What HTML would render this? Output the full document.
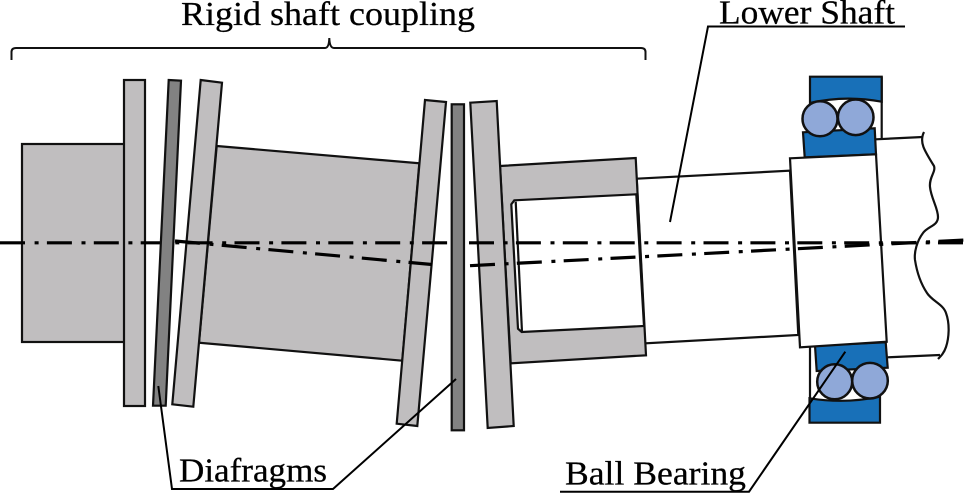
<!DOCTYPE html>
<html>
<head>
<meta charset="utf-8">
<style>
html,body{margin:0;padding:0;background:#fff;width:968px;height:494px;overflow:hidden}
svg{display:block}
text{font-family:"Liberation Serif",serif;fill:#000;stroke:#000;stroke-width:.25}
</style>
</head>
<body>
<svg width="968" height="494" viewBox="0 0 968 494" xmlns="http://www.w3.org/2000/svg">
<g stroke="#111" stroke-width="2.2" stroke-linejoin="miter">
  <!-- left hub and middle shaft -->
  <rect x="22" y="144" width="103" height="198" fill="#c0bebf"/>
  <polygon points="216.7,146 419.3,163.3 402.3,360.7 199,342.7" fill="#c0bebf"/>
  <!-- lower shaft -->
  <polygon points="636.7,178.7 790,170.7 798.3,335 645,343.3" fill="#fff"/>
  <!-- right hub -->
  <polygon points="500,166 635.7,158 646,355.3 510.7,363.3" fill="#c0bebf"/>
  <polygon points="514.3,200.3 636.3,194.3 644,326 521.7,332 518,328.7 511.3,204.3" fill="#fff"/>
  <line x1="515.7" y1="201.7" x2="522" y2="332"/>
  <!-- flanges -->
  <rect x="124" y="80" width="21" height="326" fill="#c0bebf"/>
  <polygon points="200.7,80 222,82.7 193.3,406.7 172.3,404.3" fill="#c0bebf"/>
  <polygon points="425,100 446,102 417.3,426 396.7,423.7" fill="#c0bebf"/>
  <polygon points="470.3,102.7 496.7,101 513.7,426 487.7,428" fill="#c0bebf"/>
  <!-- right shaft -->
  <path d="M876,139.3 L922.7,137" fill="none"/>
  <path d="M887.7,357.3 L940,355" fill="none"/>
  <path d="M924,132 C919,142 924,150 934,166 C936,172 929,177 930,187 C931,198 938,208 938,217 C938,226 928,226 923,233 C917,241 914,252 915,260 C917,273 921,284 927,293 C932,301 943,304 946,313 C950,324 949,338 946,347 C944,353 941,356 938,359" fill="none"/>
  <!-- upper bearing -->
  <path d="M881.7,76.7 V139" fill="none"/>
  <path d="M810,76.7 H881.7 V101.7 Q845,95 810,103 Z" fill="#1870b8"/>
  <polygon points="803,132.3 874.7,128.3 876,154.3 804.7,157.3" fill="#1870b8"/>
  <circle cx="820" cy="118.7" r="17.5" fill="#8fa8d8" stroke-width="2.5"/>
  <circle cx="855.7" cy="117.3" r="17.8" fill="#8fa8d8" stroke-width="2.5"/>
  <!-- lower bearing -->
  <path d="M810,346 V423" fill="none"/>
  <path d="M809.5,422.7 H880 V396.7 Q845,404 809.5,398.3 Z" fill="#1870b8"/>
  <polygon points="815,345.7 885.7,342.3 887.7,367.7 816.7,371" fill="#1870b8"/>
  <circle cx="834.7" cy="381.7" r="17.5" fill="#8fa8d8" stroke-width="2.5"/>
  <circle cx="870" cy="380.7" r="17.8" fill="#8fa8d8" stroke-width="2.5"/>
  <!-- inner race -->
  <polygon points="790,158.3 876,154.3 886.7,341.7 800,347.3" fill="#fff"/>
</g>
<!-- centre lines -->
<g fill="none" stroke="#000" stroke-width="3.2" stroke-dasharray="25 9.6 4 8.3">
  <line x1="0" y1="242.8" x2="965" y2="242.8"/>
  <line x1="175" y1="241" x2="432" y2="264.5"/>
  <line x1="470" y1="265.7" x2="965" y2="240"/>
</g>
<!-- diaphragm discs -->
<g stroke="#111" stroke-width="2.2">
  <polygon points="168.7,80 181,80.7 165.7,405.7 153,405.7" fill="#828282"/>
  <rect x="451.7" y="104.3" width="12.3" height="326" fill="#828282"/>
</g>
<!-- brace -->
<path d="M11.5,60 V52 Q11.5,48 16,48 H325 Q329,48 329.3,38 Q329.6,48 334,48 H641 Q645.5,48 645.5,52 V60" fill="none" stroke="#111" stroke-width="2"/>
<!-- leaders -->
<g fill="none" stroke="#000" stroke-width="2">
  <polyline points="670,222 708,26.5 905,26.5"/>
  <polyline points="158.3,386 172,489 333,489 456,379"/>
  <polyline points="845.3,351.7 749,491.7 560,491.7"/>
</g>
<!-- labels -->
<text x="181" y="25" font-size="34" textLength="294" lengthAdjust="spacingAndGlyphs">Rigid shaft coupling</text>
<text x="719" y="23.5" font-size="34" textLength="176" lengthAdjust="spacingAndGlyphs">Lower Shaft</text>
<text x="179" y="481.5" font-size="34" textLength="148" lengthAdjust="spacingAndGlyphs">Diafragms</text>
<text x="565" y="484.5" font-size="34" textLength="181" lengthAdjust="spacingAndGlyphs">Ball Bearing</text>
</svg>
</body>
</html>
